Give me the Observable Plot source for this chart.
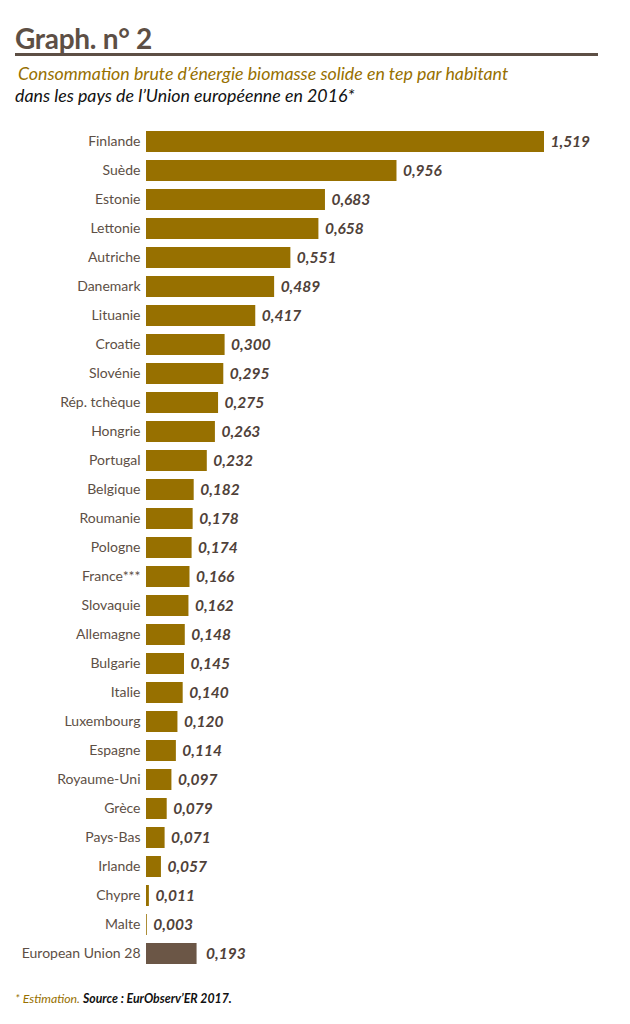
<!DOCTYPE html>
<html><head><meta charset="utf-8">
<script src="https://cdn.jsdelivr.net/npm/d3@7"></script>
<script src="https://cdn.jsdelivr.net/npm/@observablehq/plot@0.6"></script>
<style>
body{margin:0;background:#fff;width:630px;height:1024px;position:relative;font-family:Lato,"Open Sans",sans-serif;overflow:hidden}
#title{position:absolute;left:15px;top:21px;font-size:28px;font-weight:bold;color:#5d4f45;letter-spacing:-0.3px}
#rule{position:absolute;left:15px;top:53px;width:583px;height:3px;background:#5d4f45}
#sub1{position:absolute;left:18px;top:62px;font-size:17.8px;font-style:italic;color:#977000}
#sub2{position:absolute;left:15px;top:84px;font-size:17.8px;font-style:italic;color:#111}
#chart{position:absolute;left:0;top:125px}
#chart svg{display:block}
#foot{position:absolute;left:15px;top:991px;font-size:12.3px;font-style:italic}
</style></head><body>
<div id="title">Graph. n° 2</div>
<div id="rule"></div>
<div id="sub1">Consommation brute d’énergie biomasse solide en tep par habitant</div>
<div id="sub2">dans les pays de l’Union européenne en 2016*</div>
<div id="chart"></div>
<div id="foot"><span style="color:#977000">* Estimation.</span> <span style="font-weight:bold;color:#111">Source : EurObserv’ER 2017.</span></div>
<script>
const countries = ["Finlande","Suède","Estonie","Lettonie","Autriche","Danemark","Lituanie","Croatie","Slovénie","Rép. tchèque","Hongrie","Portugal","Belgique","Roumanie","Pologne","France***","Slovaquie","Allemagne","Bulgarie","Italie","Luxembourg","Espagne","Royaume-Uni","Grèce","Pays-Bas","Irlande","Chypre","Malte","European Union 28"];
const values = [1.519,0.956,0.683,0.658,0.551,0.489,0.417,0.300,0.295,0.275,0.263,0.232,0.182,0.178,0.174,0.166,0.162,0.148,0.145,0.140,0.120,0.114,0.097,0.079,0.071,0.057,0.011,0.003,0.193];
const labels = ["1,519","0,956","0,683","0,658","0,551","0,489","0,417","0,300","0,295","0,275","0,263","0,232","0,182","0,178","0,174","0,166","0,162","0,148","0,145","0,140","0,120","0,114","0,097","0,079","0,071","0,057","0,011","0,003","0,193"];
const data = countries.map((c,i)=>({country:c, value:values[i], label:labels[i], eu: c==="European Union 28"}));
const countriesData = data.filter(d=>!d.eu);
const euData = data.filter(d=>d.eu);
const textOpts = {x:"value", y:"country", text:"label", textAnchor:"start", fontSize:15.5, fontWeight:"bold", fontStyle:"italic", fill:"#4f4139"};
const chart = Plot.plot({
  width:630, height:845,
  marginTop:2, marginBottom:2, marginLeft:146, marginRight:86,
  style:{fontFamily:"Lato, 'Open Sans', sans-serif", background:"transparent"},
  x:{domain:[0,1.519], axis:null},
  y:{domain:countries, padding:0, label:null},
  marks:[
    Plot.barX(countriesData,{x:"value", y:"country", insetTop:4, insetBottom:4, fill:"#977000"}),
    Plot.barX(euData,{x:"value", y:"country", insetTop:4, insetBottom:4, fill:"#6b5646"}),
    Plot.text(countriesData,{...textOpts, dx:6}),
    Plot.text(euData,{...textOpts, dx:9}),
    Plot.axisY({tickSize:0, tickPadding:6, fontSize:14, color:"#5d4f45", label:null})
  ]
});
document.getElementById("chart").appendChild(chart);
</script>
</body></html>
